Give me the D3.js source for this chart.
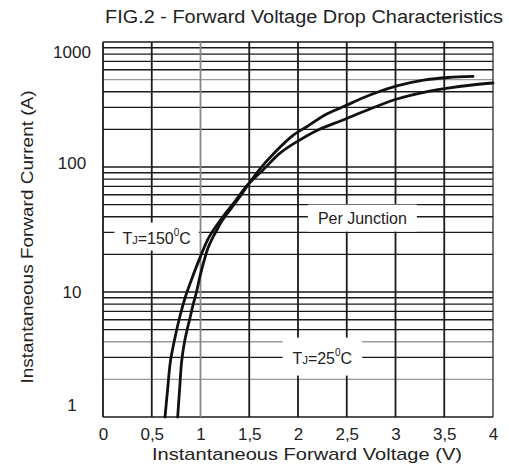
<!DOCTYPE html>
<html>
<head>
<meta charset="utf-8">
<script src="https://cdn.jsdelivr.net/npm/d3@7"></script>
<style>
  body { margin: 0; background: #fff; }
  text { font-family: "Liberation Sans", Arial, sans-serif; fill: #222; }
</style>
</head>
<body>
<svg id="svg"></svg>
<script>
// axis ticks
const voltTicks = [0, 0.5, 1, 1.5, 2, 2.5, 3, 3.5, 4];
const ampLabels = [1, 10, 100, 1000];
const ampGrid = [1, 2, 3, 4, 5, 6, 7, 8, 9, 10, 20, 30, 40, 50, 60, 70, 80, 90, 100,
                 200, 300, 400, 500, 600, 700, 800, 900, 1000];
const greyAmp = [2, 4, 500];
const greyVolt = [1];

// Tj = 150 C curve
const hotVolt = [0.636, 0.662, 0.692, 0.744, 0.795, 0.851, 0.918, 0.990, 1.082, 1.205, 1.364, 1.482,
                 1.641, 1.815, 1.969, 2.205, 2.462, 2.738, 3.015, 3.303, 3.538, 3.785, 4.0];
const hotAmp  = [1, 1.64, 2.8, 4.53, 6.67, 9.46, 13.2, 18.4, 27.0, 37.7, 54.4, 71.8,
                 94.6, 129, 156, 198, 238, 291, 350, 398, 428, 453, 470];

// Tj = 25 C curve
const coldVolt = [0.766, 0.785, 0.807, 0.836, 0.867, 0.897, 0.923, 0.959, 0.995, 1.036, 1.077, 1.128,
                  1.179, 1.226, 1.379, 1.487, 1.600, 1.754, 1.952, 2.089, 2.277, 2.462, 2.738,
                  3.015, 3.303, 3.538, 3.795];
const coldAmp  = [1, 1.64, 2.8, 3.98, 5.15, 6.43, 7.87, 10, 13.4, 17.7, 22.5, 27.5,
                  32.5, 37.7, 54.4, 71.8, 94.6, 129, 180, 210, 261, 303, 377,
                  445, 497, 520, 530];

let layout = {"width": 509, "height": 470,
              "left": 103, "right": 493, "top": 42, "bottom": 417};

let svg = d3.select("#svg")
            .attr("width", layout.width)
            .attr("height", layout.height);

let xScale = d3.scaleLinear().domain([0, 4]).range([layout.left, layout.right]);
let yScale = d3.scaleLog().domain([1, 1000]).range([layout.bottom, layout.top]);

// grid
let grid = svg.append("g");
grid.selectAll(".hline")
    .data(ampGrid)
    .join("line")
    .attr("class", "hline")
    .attr("x1", layout.left).attr("x2", layout.right)
    .attr("y1", d => yScale(d)).attr("y2", d => yScale(d))
    .attr("stroke", d => greyAmp.includes(d) ? "#999" : "#1a1a1a")
    .attr("stroke-width", 1.4);

grid.selectAll(".vline")
    .data(voltTicks)
    .join("line")
    .attr("class", "vline")
    .attr("x1", d => xScale(d)).attr("x2", d => xScale(d))
    .attr("y1", layout.top).attr("y2", layout.bottom)
    .attr("stroke", d => greyVolt.includes(d) ? "#888" : "#1a1a1a")
    .attr("stroke-width", d => (d == 4 ? 1.2 : 1.8));

// axes
let xAxis = svg.append("g")
    .attr("transform", `translate(0, ${layout.bottom})`)
    .call(d3.axisBottom(xScale).tickValues(voltTicks).tickSize(0).tickPadding(11)
            .tickFormat(d => String(d).replace(".", ",")));
xAxis.select(".domain").remove();
xAxis.selectAll("text").attr("font-size", 17).attr("fill", "#222")
     .attr("font-family", "Liberation Sans, Arial, sans-serif");

let yAxis = svg.append("g")
    .attr("transform", `translate(${layout.left}, 0)`)
    .call(d3.axisLeft(yScale).tickValues(ampLabels).tickSize(0).tickFormat(d3.format("d")));
yAxis.select(".domain").remove();
// end labels sit inside the frame, as in the original sheet
yAxis.selectAll("text").attr("font-size", 17).attr("fill", "#222")
     .attr("x", -31).attr("text-anchor", "middle")
     .attr("y", d => (d == 1000 ? 10 : d == 1 ? -12 : d == 100 ? -4 : 0))
     .attr("font-family", "Liberation Sans, Arial, sans-serif");

// titles
svg.append("text")
   .attr("x", 105).attr("y", 23)
   .attr("font-size", 18)
   .attr("textLength", 398).attr("lengthAdjust", "spacingAndGlyphs")
   .text("FIG.2 - Forward Voltage Drop Characteristics");

svg.append("text")
   .attr("x", 307).attr("y", 460)
   .attr("text-anchor", "middle")
   .attr("font-size", 17)
   .attr("textLength", 310).attr("lengthAdjust", "spacingAndGlyphs")
   .text("Instantaneous Forward Voltage (V)");

svg.append("text")
   .attr("transform", "translate(33, 237) rotate(-90)")
   .attr("text-anchor", "middle")
   .attr("font-size", 17)
   .attr("textLength", 293).attr("lengthAdjust", "spacingAndGlyphs")
   .text("Instantaneous Forward Current (A)");

// labels on the grid, with a white box behind each
function gridLabel(cx, cy, parts, padX, padY) {
  let g = svg.append("g");
  let box = g.append("rect").attr("fill", "#fff");
  let t = g.append("text")
           .attr("x", cx).attr("y", cy)
           .attr("text-anchor", "middle")
           .attr("dominant-baseline", "central")
           .attr("font-size", 16);
  parts.forEach(p => {
    t.append("tspan")
     .attr("font-size", p.size || 16)
     .attr("dy", p.dy || 0)
     .text(p.s);
  });
  let bb = t.node().getBBox();
  box.attr("x", bb.x - padX).attr("y", bb.y - padY)
     .attr("width", bb.width + 2 * padX).attr("height", bb.height + 2 * padY);
}

gridLabel(xScale(2.66), yScale(39), [{s: "Per Junction"}], 10, 5);
gridLabel(xScale(0.55), yScale(27), [{s: "T"}, {s: "J", size: 11, dy: 2}, {s: "=150", dy: -2},
          {s: "0", size: 10, dy: -6}, {s: "C", dy: 6}], 8, 4);
gridLabel(xScale(2.25), yScale(2.96), [{s: "T"}, {s: "J", size: 11, dy: 2}, {s: "=25", dy: -2},
          {s: "0", size: 10, dy: -6}, {s: "C", dy: 6}], 10, 9);

// curves
let lineFunction = d3.line()
    .x(d => xScale(d[0]))
    .y(d => yScale(d[1]))
    .curve(d3.curveCatmullRom.alpha(0.5));

let curves = [d3.zip(hotVolt, hotAmp), d3.zip(coldVolt, coldAmp)];
svg.selectAll(".vfLine")
   .data(curves)
   .join("path")
   .attr("class", "vfLine")
   .attr("fill", "none")
   .attr("stroke", "#111")
   .attr("stroke-width", 2.8)
   .attr("stroke-linecap", "round")
   .attr("d", d => lineFunction(d));
</script>
</body>
</html>
